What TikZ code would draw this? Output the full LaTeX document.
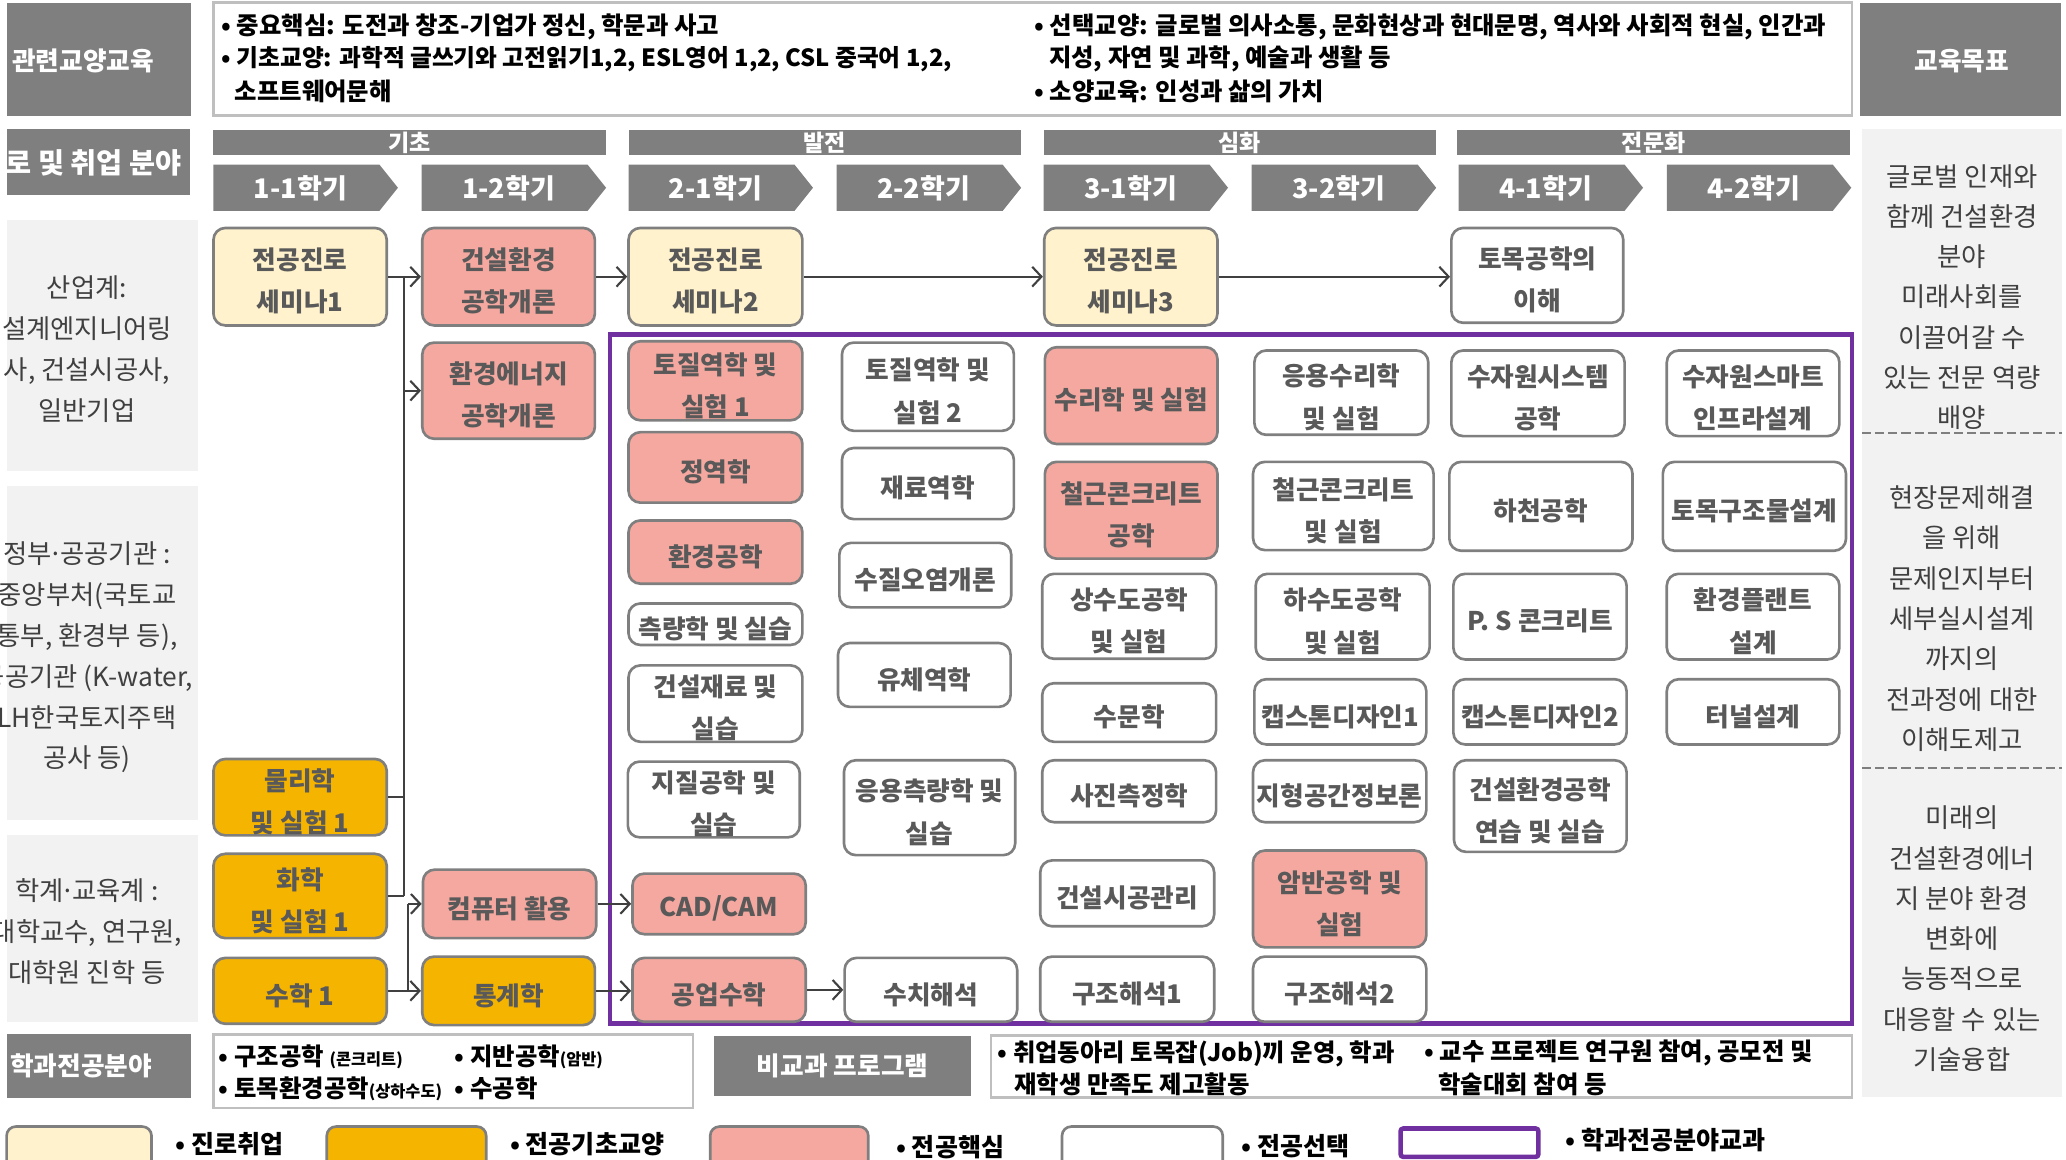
\documentclass[tikz,border=0pt]{standalone}
\usepackage{fontspec}
\setmainfont{Noto Sans CJK KR}
\usetikzlibrary{arrows.meta}
\definecolor{hdrgray}{HTML}{7F7F7F}
\definecolor{lightbg}{HTML}{F2F2F2}
\definecolor{creamc}{HTML}{FFF2CC}
\definecolor{amberc}{HTML}{F4B400}
\definecolor{salmonc}{HTML}{F4A8A0}
\definecolor{bordgray}{HTML}{7F7F7F}
\definecolor{boxtext}{HTML}{595959}
\definecolor{noteborder}{HTML}{BFBFBF}
\definecolor{purplec}{HTML}{7030A0}
\definecolor{arrowgray}{HTML}{404040}
\definecolor{sidetext}{HTML}{404040}
\newcommand\fs[2]{\fontsize{#1}{#2}\selectfont}
\newcommand\md{\kern-.12em·\kern-.12em}
\newcommand\cbox[7]{%
  \node[coursebox,fill=#6,minimum width={#4pt-#2pt},minimum height={#5pt-#3pt}] (#1) at ({(#2+#4)/2},{(#3+#5)/2}) {};
  \node[coursetext] (#1t) at ([yshift=-3.5pt]#1.center) {#7};}
\newcommand\chev[3]{%
  \fill[hdrgray] (#2,125) -- ({#2+126},125) -- ({#2+140},142.5) -- ({#2+126},160) -- (#2,160) -- cycle;
  \node[chevtext] (#1) at ({#2+66},143) {#3};}
\begin{document}
\begin{tikzpicture}[x=1pt,y=-1pt,
  coursebox/.style={draw=bordgray,line width=2pt,rounded corners=9pt,inner sep=0pt},
  coursetext/.style={inner sep=0pt,align=center,text=boxtext,font=\bfseries\fs{19.5}{32}},
  hdrtext/.style={text=white,font=\bfseries\fs{19.5}{22},inner sep=0pt},
  chevtext/.style={text=white,font=\bfseries\fs{20.5}{22},inner sep=0pt},
  phasetext/.style={text=white,font=\bfseries\fs{17.5}{18},inner sep=0pt},
  sidetxt/.style={text=sidetext,font=\fs{20}{30.6},align=center,inner sep=0pt},
  lefttxt/.style={text=sidetext,font=\fs{20}{31},align=center,inner sep=0pt},
  notetxt/.style={text=black,font=\bfseries\fs{18.5}{20},anchor=west,inner sep=0pt},
  legtxt/.style={text=black,font=\bfseries\fs{19}{20},anchor=west,inner sep=0pt},
  notebox/.style={draw=noteborder,line width=2pt,fill=white},
  ln/.style={draw=arrowgray,line width=1.6pt},
  arr/.style={draw=arrowgray,line width=1.6pt,-{Straight Barb[length=7pt,width=15pt,line width=1.6pt]}},
  legbox/.style={draw=bordgray,line width=2pt,rounded corners=7pt},
  dashline/.style={draw=hdrgray,line width=2pt,dash pattern=on 7pt off 3pt}]
\useasboundingbox (0,0) rectangle (1568,880);
\clip (0,0) rectangle (1568,880);

% ---------- top row ----------
\fill[hdrgray] (5,2) rectangle (145,88);
\node[hdrtext] (genlabel) at (63,46) {관련교양교육};
\draw[notebox] (162,2) rectangle (1405.5,87.5);
\node[notetxt] (n1) at (168,20.5) {• 중요핵심: 도전과 창조-기업가 정신, 학문과 사고};
\node[notetxt,font=\bfseries\fs{18}{20}] (n2) at (168,45) {• 기초교양: 과학적 글쓰기와 고전읽기1,2, ESL영어 1,2, CSL 중국어 1,2,};
\node[notetxt] (n3) at (178,69.5) {소프트웨어문해};
\node[notetxt] (n4) at (785,20.5) {• 선택교양: 글로벌 의사소통, 문화현상과 현대문명, 역사와 사회적 현실, 인간과};
\node[notetxt] (n5) at (796,45) {지성, 자연 및 과학, 예술과 생활 등};
\node[notetxt] (n6) at (785,69.5) {• 소양교육: 인성과 삶의 가치};
\fill[hdrgray] (1412,2) rectangle (1564,88);
\node[hdrtext] (goallabel) at (1489,46) {교육목표};

% ---------- second row ----------
\fill[hdrgray] (5,98) rectangle (144,148);
\node[hdrtext,anchor=east,font=\bfseries\fs{21.5}{22}] (careerlabel) at (138,124) {진로 및 취업 분야};
\foreach \xa/\lab [count=\i] in {162/기초,477/발전,792/심화,1106/전문화}{
  \fill[hdrgray] (\xa,99) rectangle ({\xa+298},118);
  \node[phasetext] (phase\i) at ({\xa+149},109.5) {\underline{\lab}};
}
\chev{sem11}{162}{1-1학기}
\chev{sem12}{320}{1-2학기}
\chev{sem21}{477}{2-1학기}
\chev{sem22}{635}{2-2학기}
\chev{sem31}{792}{3-1학기}
\chev{sem32}{950}{3-2학기}
\chev{sem41}{1107}{4-1학기}
\chev{sem42}{1265}{4-2학기}

% ---------- left column ----------
\fill[lightbg] (5,167) rectangle (150,357.5);
\fill[lightbg] (5,368.5) rectangle (150,622.5);
\fill[lightbg] (5,634) rectangle (150,775.5);
\node[lefttxt] (ind) at (66,265) {산업계:\\설계엔지니어링\\사, 건설시공사,\\일반기업};
\node[lefttxt] (gov) at (66,499) {정부\md 공공기관 :\\중앙부처(국토교\\통부, 환경부 등),\\공공기관 (K-water,\\LH한국토지주택\\공사 등)};
\node[lefttxt] (acad) at (66,707) {학계\md 교육계 :\\대학교수, 연구원,\\대학원 진학 등};

% ---------- right column ----------
\fill[lightbg] (1413,98) rectangle (1565,832.5);
\draw[dashline] (1413,328.5) -- (1565,328.5);
\draw[dashline] (1413,583) -- (1565,583);
\node[sidetxt] (goal1) at (1489,225.5) {글로벌 인재와\\함께 건설환경\\분야\\미래사회를\\이끌어갈 수\\있는 전문 역량\\배양};
\node[sidetxt] (goal2) at (1489,469.5) {현장문제해결\\을 위해\\문제인지부터\\세부실시설계\\까지의\\전과정에 대한\\이해도제고};
\node[sidetxt] (goal3) at (1489,712.5) {미래의\\건설환경에너\\지 분야 환경\\변화에\\능동적으로\\대응할 수 있는\\기술융합};

% ---------- purple frame ----------
\draw[draw=purplec,line width=3.5pt] (463,254) rectangle (1405.5,777);

% ---------- course boxes ----------
\cbox{s1}{162}{173}{293.5}{247}{creamc}{전공진로\\세미나1}
\cbox{phy}{162}{576}{293.5}{634}{amberc}{물리학\\및 실험 1}
\cbox{chem}{162}{648}{293.5}{712}{amberc}{화학\\및 실험 1}
\cbox{mathA}{162}{727}{293.5}{777}{amberc}{수학 1}
\cbox{gc}{320.5}{173}{451.5}{247}{salmonc}{건설환경\\공학개론}
\cbox{en}{320.5}{260}{451.5}{333}{salmonc}{환경에너지\\공학개론}
\cbox{comp}{321}{660}{452.5}{712}{salmonc}{컴퓨터 활용}
\cbox{stat}{320.5}{726}{451.5}{778}{amberc}{통계학}
\cbox{s2}{477}{173}{609}{247}{creamc}{전공진로\\세미나2}
\cbox{soilA}{477}{259}{609}{319}{salmonc}{토질역학 및\\실험 1}
\cbox{statics}{477}{328}{609}{381.5}{salmonc}{정역학}
\cbox{envE}{477}{395}{609}{443}{salmonc}{환경공학}
\cbox{surv}{477}{458}{609}{489.5}{white}{측량학 및 실습}
\cbox{mat}{477}{505}{609}{563}{white}{건설재료 및\\실습}
\cbox{geo}{476.5}{578}{607}{635.5}{white}{지질공학 및\\실습}
\cbox{cad}{480}{663}{611.5}{709}{salmonc}{CAD/CAM}
\cbox{emath}{480}{727}{611.5}{775.5}{salmonc}{공업수학}
\cbox{soilB}{639}{260}{769.5}{327}{white}{토질역학 및\\실험 2}
\cbox{mech}{639}{340}{769.5}{394}{white}{재료역학}
\cbox{water}{637}{412}{767.5}{461}{white}{수질오염개론}
\cbox{fluid}{636}{488}{767}{536.5}{white}{유체역학}
\cbox{asurv}{640.5}{577}{770.5}{649}{white}{응용측량학 및\\실습}
\cbox{num}{641}{727}{772}{775.5}{white}{수치해석}
\cbox{s3}{792.5}{173}{924}{247}{creamc}{전공진로\\세미나3}
\cbox{hyd}{793}{263.5}{924}{337}{salmonc}{수리학 및 실험}
\cbox{rc}{793}{350.5}{924}{424}{salmonc}{철근콘크리트\\공학}
\cbox{sup}{791}{435.5}{923}{500}{white}{상수도공학\\및 실험}
\cbox{hydro}{791}{518.5}{923}{563}{white}{수문학}
\cbox{photo}{791}{577}{923}{624}{white}{사진측정학}
\cbox{cons}{789.5}{653}{921.5}{703}{white}{건설시공관리}
\cbox{saA}{789.5}{726}{921.5}{775.5}{white}{구조해석1}
\cbox{ahyd}{952}{266}{1084}{330}{white}{응용수리학\\및 실험}
\cbox{rcl}{951}{350.5}{1088}{417.5}{white}{철근콘크리트\\및 실험}
\cbox{sew}{953}{435.5}{1085}{500.5}{white}{하수도공학\\및 실험}
\cbox{capA}{952}{515.5}{1082.5}{565}{white}{캡스톤디자인1}
\cbox{gis}{951}{577}{1082.5}{624}{white}{지형공간정보론}
\cbox{rock}{951}{645.5}{1082.5}{719}{salmonc}{암반공학 및\\실험}
\cbox{saB}{951}{726}{1082.5}{775.5}{white}{구조해석2}
\cbox{civ}{1101.5}{173}{1232}{245}{white}{토목공학의\\이해}
\cbox{wrs}{1101.5}{266}{1233}{331}{white}{수자원시스템\\공학}
\cbox{river}{1100}{350.5}{1239}{418}{white}{하천공학}
\cbox{ps}{1103}{435.5}{1234.5}{500.5}{white}{P. S 콘크리트}
\cbox{capB}{1103}{515.5}{1234.5}{565}{white}{캡스톤디자인2}
\cbox{prac}{1103.5}{577}{1234.5}{646.5}{white}{건설환경공학\\연습 및 실습}
\cbox{smart}{1265}{266}{1396}{331}{white}{수자원스마트\\인프라설계}
\cbox{struct}{1262}{350.5}{1401}{418}{white}{토목구조물설계}
\cbox{plant}{1265}{435.5}{1396}{500.5}{white}{환경플랜트\\설계}
\cbox{tunnel}{1265}{515.5}{1396}{565}{white}{터널설계}

% ---------- connectors ----------
\coordinate (va) at (306.5,210);
\coordinate (vb) at (306.5,680);
\coordinate (vc) at (309.5,686);
\coordinate (vd) at (309.5,752);
\draw[ln] (va) -- (vb);
\draw[ln] (vc) -- (vd);
\draw[arr] (s1.east) -- (s1.east -| gc.west);
\draw[arr] (va |- en.west) -- (en.west);
\draw[ln] (phy.east) -- (phy.east -| va);
\draw[ln] (chem.east) -- (chem.east -| va);
\draw[arr] (vc |- comp.west) -- (comp.west);
\draw[arr] (mathA.east) -- (mathA.east -| stat.west);
\draw[arr] (gc.east) -- (gc.east -| s2.west);
\draw[arr] (s2.east) -- (s2.east -| s3.west);
\draw[arr] (s3.east) -- (s3.east -| civ.west);
\draw[arr] (comp.east) -- (comp.east -| cad.west);
\draw[arr] (stat.east) -- (stat.east -| emath.west);
\draw[arr] (emath.east) -- (emath.east -| num.west);

% ---------- bottom row ----------
\fill[hdrgray] (5,785) rectangle (145,833);
\node[hdrtext,anchor=west] (majlabel) at (7.5,809) {학과전공분야};
\draw[notebox] (162,785) rectangle (526,841);
\node[notetxt] (m1) at (166,802) {• 구조공학 {\fs{12.4}{13}(콘크리트)}};
\node[notetxt] (m2) at (345,802) {• 지반공학{\fs{12.4}{13}(암반)}};
\node[notetxt] (m3) at (166,826) {• 토목환경공학{\fs{12.4}{13}(상하수도)}};
\node[notetxt] (m4) at (345,826) {• 수공학};
\fill[hdrgray] (542,786) rectangle (737,832);
\node[hdrtext] (extlabel) at (639.5,809) {비교과 프로그램};
\draw[notebox] (752,786) rectangle (1405.5,833);
\node[notetxt] (e1) at (757,799.5) {• 취업동아리 토목잡(Job)끼 운영, 학과};
\node[notetxt] (e2) at (769.5,823) {재학생 만족도 제고활동};
\node[notetxt] (e3) at (1081,799.5) {• 교수 프로젝트 연구원 참여, 공모전 및};
\node[notetxt] (e4) at (1091.5,823) {학술대회 참여 등};

% ---------- legend ----------
\draw[legbox,fill=creamc] (5,855) rectangle (115,895);
\node[legtxt] (l1) at (133,868) {• 진로취업};
\draw[legbox,fill=amberc] (248,855) rectangle (369,895);
\node[legtxt] (l2) at (387,868) {• 전공기초교양};
\draw[legbox,fill=salmonc] (539,855) rectangle (659,895);
\node[legtxt] (l3) at (680,871) {• 전공핵심};
\draw[legbox,fill=white] (806,855) rectangle (928,895);
\node[legtxt] (l4) at (942,869.5) {• 전공선택};
\draw[draw=purplec,line width=3.5pt,rounded corners=2pt] (1063,856.5) rectangle (1167.5,878);
\node[legtxt] (l5) at (1188,865.5) {• 학과전공분야교과};
\end{tikzpicture}
\end{document}
